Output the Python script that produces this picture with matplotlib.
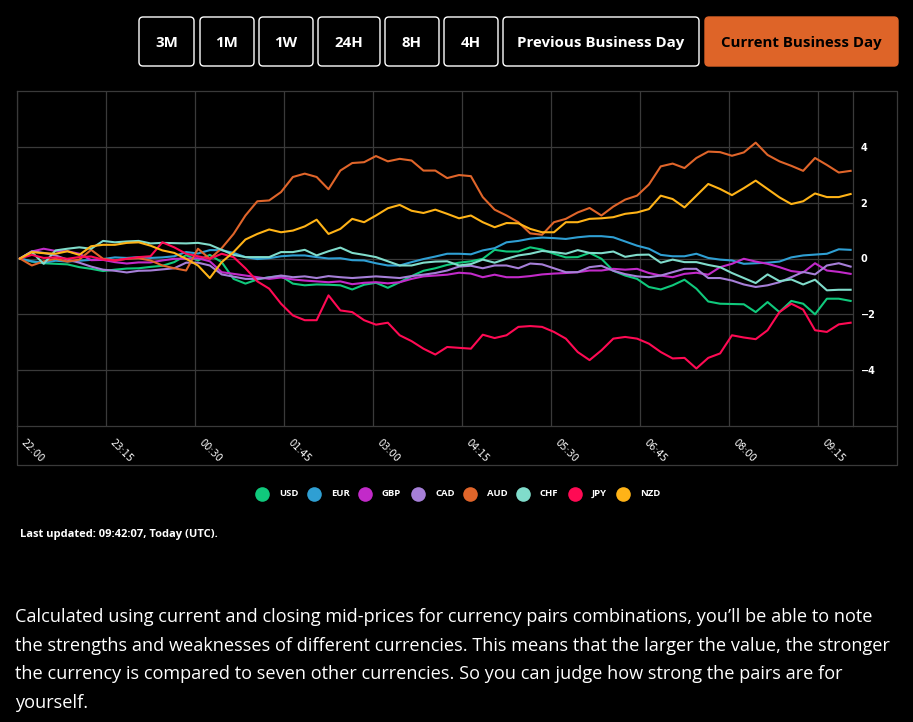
import matplotlib.pyplot as plt
import matplotlib.patches as patches
import numpy as np

BG = '#000000'
GRID = '#3a3a3a'
W, H = 913, 722

# minutes since 22:00, sampled every 10 minutes
minutes = np.arange(0, 701, 10)
tick_minutes = [0, 75, 150, 225, 300, 375, 450, 525, 600, 675]
tick_labels = ['22:00', '23:15', '00:30', '01:45', '03:00', '04:15', '05:30', '06:45', '08:00', '09:15']
y_ticks = [-4, -2, 0, 2, 4]

currencies = ['USD', 'EUR', 'GBP', 'CAD', 'AUD', 'CHF', 'JPY', 'NZD']
colors = ['#10c97c', '#2f9fd3', '#c22ac9', '#a67fd8', '#e0652a', '#80dccb', '#ff0a54', '#ffb317']

usd = [0, -0.11, -0.17, -0.19, -0.21, -0.31, -0.37, -0.45, -0.40, -0.36,
       -0.35, -0.30, -0.26, -0.13, 0.12, -0.07, 0.13, -0.13, -0.73, -0.90,
       -0.75, -0.67, -0.63, -0.90, -0.96, -0.93, -0.94, -0.96, -1.11, -0.94,
       -0.87, -1.05, -0.85, -0.63, -0.44, -0.35, -0.23, -0.15, -0.10, -0.01,
       0.31, 0.25, 0.25, 0.40, 0.32, 0.17, 0.04, 0.05, 0.20, -0.01,
       -0.44, -0.61, -0.73, -1.02, -1.11, -0.96, -0.76, -1.08, -1.54, -1.62,
       -1.63, -1.64, -1.92, -1.56, -1.92, -1.52, -1.62, -2.00, -1.44, -1.44,
       -1.52]
eur = [0, -0.10, -0.15, -0.08, -0.11, -0.08, -0.05, -0.02, 0.04, 0.02,
       0.05, 0.02, 0.04, 0.08, 0.23, 0.18, 0.30, 0.30, 0.20, 0.05,
       -0.02, 0.01, 0.08, 0.11, 0.11, 0.05, 0.00, 0.01, -0.06, -0.07,
       -0.17, -0.25, -0.25, -0.13, -0.02, 0.07, 0.17, 0.17, 0.15, 0.29,
       0.37, 0.58, 0.63, 0.71, 0.75, 0.73, 0.70, 0.76, 0.80, 0.80,
       0.76, 0.61, 0.46, 0.35, 0.13, 0.08, 0.08, 0.17, 0.02, -0.04,
       -0.07, -0.19, -0.17, -0.15, -0.11, 0.04, 0.11, 0.14, 0.17, 0.33,
       0.31]
gbp = [0, 0.25, 0.35, 0.27, 0.26, 0.17, -0.06, -0.05, -0.13, -0.18,
       -0.14, -0.14, -0.07, -0.01, -0.01, 0.01, -0.10, -0.49, -0.55, -0.61,
       -0.67, -0.73, -0.68, -0.75, -0.79, -0.82, -0.85, -0.82, -0.92, -0.87,
       -0.85, -0.89, -0.85, -0.73, -0.64, -0.61, -0.58, -0.51, -0.54, -0.67,
       -0.58, -0.67, -0.67, -0.63, -0.57, -0.54, -0.52, -0.49, -0.43, -0.43,
       -0.37, -0.40, -0.37, -0.52, -0.61, -0.67, -0.55, -0.51, -0.58, -0.31,
       -0.19, -0.01, -0.11, -0.19, -0.31, -0.45, -0.50, -0.17, -0.43, -0.48,
       -0.55]
cad = [0, 0.26, 0.20, 0.11, -0.04, -0.15, -0.29, -0.40, -0.44, -0.50,
       -0.44, -0.43, -0.39, -0.35, -0.15, -0.15, -0.25, -0.57, -0.65, -0.73,
       -0.73, -0.68, -0.61, -0.67, -0.64, -0.70, -0.63, -0.67, -0.70, -0.67,
       -0.64, -0.67, -0.70, -0.63, -0.58, -0.52, -0.43, -0.29, -0.26, -0.35,
       -0.25, -0.25, -0.35, -0.18, -0.21, -0.35, -0.49, -0.49, -0.31, -0.26,
       -0.44, -0.56, -0.64, -0.67, -0.61, -0.49, -0.37, -0.37, -0.70, -0.70,
       -0.79, -0.93, -1.02, -0.96, -0.85, -0.67, -0.48, -0.57, -0.25, -0.17,
       -0.29]
aud = [0, -0.25, -0.10, -0.01, -0.11, -0.04, 0.31, -0.01, -0.07, -0.01,
       0.01, -0.07, -0.25, -0.35, -0.43, 0.35, -0.01, 0.37, 0.88, 1.54,
       2.05, 2.08, 2.38, 2.92, 3.04, 2.92, 2.48, 3.15, 3.42, 3.45,
       3.67, 3.48, 3.57, 3.51, 3.15, 3.15, 2.88, 2.99, 2.95, 2.20,
       1.75, 1.54, 1.30, 0.90, 0.85, 1.30, 1.42, 1.65, 1.81, 1.54,
       1.86, 2.11, 2.25, 2.65, 3.30, 3.40, 3.24, 3.60, 3.83, 3.81,
       3.68, 3.80, 4.15, 3.71, 3.48, 3.32, 3.14, 3.60, 3.35, 3.08,
       3.14]
chf = [0, 0.23, -0.19, 0.29, 0.35, 0.40, 0.35, 0.63, 0.58, 0.61,
       0.63, 0.54, 0.56, 0.55, 0.54, 0.56, 0.49, 0.31, 0.13, 0.05,
       0.05, 0.05, 0.23, 0.23, 0.31, 0.11, 0.26, 0.39, 0.20, 0.13,
       0.05, -0.10, -0.25, -0.25, -0.15, -0.11, -0.10, -0.25, -0.20, -0.04,
       -0.15, -0.01, 0.11, 0.17, 0.27, 0.23, 0.17, 0.30, 0.20, 0.19,
       0.25, 0.06, 0.13, 0.14, -0.15, -0.04, -0.13, -0.13, -0.23, -0.31,
       -0.52, -0.70, -0.88, -0.57, -0.81, -0.75, -0.93, -0.76, -1.14, -1.12,
       -1.12]
jpy = [0, 0.13, 0.02, 0.04, -0.01, 0.05, 0.07, -0.04, -0.07, -0.01,
       0.05, 0.08, 0.58, 0.40, 0.17, 0.08, -0.01, 0.17, 0.05, -0.35,
       -0.82, -1.08, -1.62, -2.04, -2.21, -2.21, -1.32, -1.86, -1.92, -2.21,
       -2.37, -2.30, -2.75, -2.96, -3.23, -3.44, -3.17, -3.20, -3.23, -2.73,
       -2.85, -2.75, -2.45, -2.42, -2.45, -2.63, -2.87, -3.35, -3.64, -3.29,
       -2.87, -2.81, -2.87, -3.05, -3.35, -3.58, -3.56, -3.94, -3.56, -3.40,
       -2.75, -2.83, -2.89, -2.57, -1.92, -1.62, -1.83, -2.57, -2.63, -2.36,
       -2.30]
nzd = [0, 0.23, 0.19, 0.17, 0.26, 0.13, 0.44, 0.49, 0.49, 0.56,
       0.58, 0.46, 0.29, 0.20, -0.01, -0.25, -0.70, -0.13, 0.23, 0.68,
       0.88, 1.04, 0.94, 1.00, 1.15, 1.39, 0.88, 1.06, 1.42, 1.30,
       1.54, 1.80, 1.92, 1.71, 1.63, 1.75, 1.60, 1.44, 1.54, 1.30,
       1.12, 1.27, 1.26, 1.06, 0.94, 0.94, 1.30, 1.30, 1.42, 1.44,
       1.48, 1.60, 1.65, 1.77, 2.25, 2.13, 1.83, 2.25, 2.67, 2.49,
       2.27, 2.52, 2.79, 2.49, 2.19, 1.95, 2.05, 2.33, 2.20, 2.20,
       2.31]
series = [usd, eur, gbp, cad, aud, chf, jpy, nzd]

buttons = ['3M', '1M', '1W', '24H', '8H', '4H', 'Previous Business Day', 'Current Business Day']
button_x = [(139, 194), (200, 254), (259, 313), (318, 380), (385, 439), (444, 498), (503, 699), (705, 898)]
legend_x = [262, 314, 365, 418, 470, 523, 575, 623]

paragraph = [
    'Calculated using current and closing mid-prices for currency pairs combinations, you\u2019ll be able to note',
    'the strengths and weaknesses of different currencies. This means that the larger the value, the stronger',
    'the currency is compared to seven other currencies. So you can judge how strong the pairs are for',
    'yourself.',
]

fig = plt.figure(figsize=(W / 100, H / 100), dpi=100)
fig.patch.set_facecolor(BG)

# chart area
ax = fig.add_axes([17 / W, 1 - 426 / H, (853 - 17) / W, (426 - 91) / H])
ax.set_facecolor(BG)
for vals, c in zip(series, colors):
    ax.plot(minutes + 2.5, vals, color=c, lw=1.5, solid_joinstyle='round')
ax.set_xlim(0, 704.5)
ax.set_ylim(-6, 6)
ax.set_xticks(tick_minutes)
ax.set_yticks(y_ticks)
ax.grid(color=GRID, lw=0.9)
ax.set_axisbelow(True)
for sp in ax.spines.values():
    sp.set_color(GRID)
    sp.set_linewidth(0.9)
ax.tick_params(axis='x', length=0, labelbottom=False)
ax.yaxis.tick_right()
ax.tick_params(axis='y', length=0, pad=5.5, labelcolor='white', labelsize=7)
for lab in ax.get_yticklabels():
    lab.set_fontweight('bold')
for t, lab in zip(tick_minutes, tick_labels):
    ax.annotate(lab, xy=(t, -6), xytext=(1.5, -8), textcoords='offset points',
                rotation=-45, ha='left', va='top', color='white', fontsize=7,
                annotation_clip=False)

# overlay in pixel coordinates
ov = fig.add_axes([0, 0, 1, 1])
ov.set_xlim(0, W)
ov.set_ylim(H, 0)
ov.axis('off')
ov.plot([853, 897, 897, 17, 17], [426, 426, 465, 465, 426], color=GRID, lw=0.9)
ov.plot([853, 897, 897], [91, 91, 426], color=GRID, lw=0.9)

for (x0, x1), name in zip(button_x, buttons):
    current = name == 'Current Business Day'
    ov.add_patch(patches.FancyBboxPatch((x0, 17), x1 - x0, 49,
                                        boxstyle='round,pad=0,rounding_size=4',
                                        facecolor='#de6428' if current else BG,
                                        edgecolor='#de6428' if current else 'white', lw=1))
    ov.text((x0 + x1) / 2, 43, name, ha='center', va='center', fontsize=10.8,
            fontweight='bold', family='Open Sans', color='black' if current else 'white')

for cx, name, c in zip(legend_x, currencies, colors):
    ov.plot([cx], [494], marker='o', ms=10.5, color=c, mec='none')
    ov.text(cx + 17, 494, name, ha='left', va='center', fontsize=6.8, fontweight='bold',
            family='Open Sans', color='white')

ov.text(20, 535, 'Last updated: 09:42:07, Today (UTC).', ha='left', va='center',
        fontsize=8.0, fontweight='bold', family='Open Sans', color='white')

for i, line in enumerate(paragraph):
    ov.text(15, 617 + i * 28.7, line, ha='left', va='center', fontsize=13.05,
            family='Open Sans', color='white')

fig.savefig('out.png', dpi=100, facecolor=BG)
